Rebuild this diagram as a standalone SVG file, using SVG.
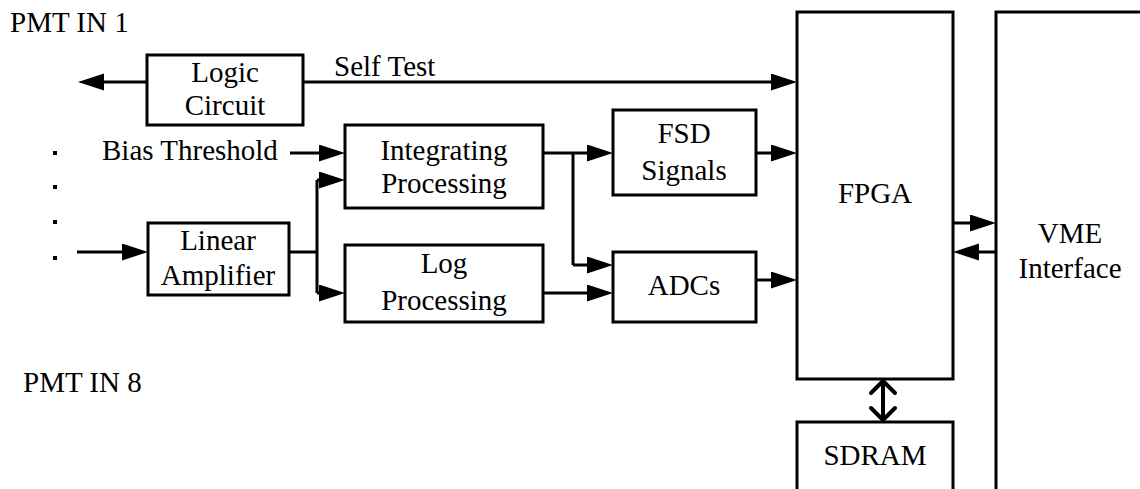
<svg xmlns="http://www.w3.org/2000/svg" width="1140" height="489" viewBox="0 0 1140 489" font-family="Liberation Serif, DejaVu Serif, serif" font-size="29">
<style>
.box{fill:#fff;stroke:#000;stroke-width:3}
.ln{fill:none;stroke:#000;stroke-width:3}
.ar{fill:none;stroke:#000;stroke-width:3;marker-end:url(#ah)}
.c{text-anchor:middle}
.dot{fill:#000}
</style>
<defs>
<marker id="ah" markerUnits="userSpaceOnUse" markerWidth="28" markerHeight="18" refX="16" refY="8.5" orient="auto">
<path d="M0,0 L26,8.5 L0,17 z" fill="#000"/>
</marker>
</defs>
<rect width="1140" height="489" fill="#fff"/>
<g id="labels">
<text x="10" y="32">PMT IN 1</text>
<text x="23" y="392">PMT IN 8</text>
<text x="102" y="160">Bias Threshold</text>
<text x="334" y="76">Self Test</text>
<rect class="dot" x="53" y="151" width="4" height="4"/>
<rect class="dot" x="53" y="185" width="4" height="4"/>
<rect class="dot" x="53" y="220" width="4" height="4"/>
<rect class="dot" x="53" y="256" width="4" height="4"/>
</g>
<g id="connectors">
<path class="ar" d="M147,82 H88"/>
<path class="ar" d="M303,82 H787"/>
<path class="ar" d="M290,153 H335"/>
<path class="ar" d="M77,252 H138"/>
<path class="ln" d="M289,252 H317 M317,180 V293"/>
<path class="ar" d="M317,180 H335"/>
<path class="ar" d="M317,293 H335"/>
<path class="ar" d="M543,153 H603"/>
<path class="ln" d="M573,153 V265"/>
<path class="ar" d="M573,265 H603"/>
<path class="ar" d="M543,293 H603"/>
<path class="ar" d="M756,153 H787"/>
<path class="ar" d="M756,280 H787"/>
<path class="ar" d="M953,223 H986"/>
<path class="ar" d="M996,252 H963"/>
<path fill="none" stroke="#000" stroke-width="4" stroke-linecap="round" stroke-linejoin="round" d="M883,381 V420 M871,393 L883,381 L895,393 M871,408 L883,420 L895,408"/>
</g>
<g id="logic">
<rect class="box" x="147" y="55" width="156" height="70"/>
<text class="c" x="225" y="82">Logic</text>
<text class="c" x="225" y="115">Circuit</text>
</g>
<g id="linear">
<rect class="box" x="148" y="223" width="141" height="72"/>
<text class="c" x="218" y="250">Linear</text>
<text class="c" x="218" y="285">Amplifier</text>
</g>
<g id="integrating">
<rect class="box" x="345" y="125" width="198" height="83"/>
<text class="c" x="444" y="160">Integrating</text>
<text class="c" x="444" y="193">Processing</text>
</g>
<g id="log">
<rect class="box" x="345" y="245" width="198" height="77"/>
<text class="c" x="444" y="273">Log</text>
<text class="c" x="444" y="310">Processing</text>
</g>
<g id="fsd">
<rect class="box" x="613" y="110" width="143" height="85"/>
<text class="c" x="684" y="143">FSD</text>
<text class="c" x="684" y="180">Signals</text>
</g>
<g id="adcs">
<rect class="box" x="613" y="252" width="143" height="70"/>
<text class="c" x="684" y="295">ADCs</text>
</g>
<g id="fpga">
<rect class="box" x="797" y="12" width="156" height="367"/>
<text class="c" x="875" y="203">FPGA</text>
</g>
<g id="sdram">
<rect class="box" x="797" y="422" width="156" height="80"/>
<text class="c" x="875" y="465">SDRAM</text>
</g>
<g id="vme">
<rect class="box" x="996" y="12" width="160" height="490"/>
<text class="c" x="1070" y="243">VME</text>
<text class="c" x="1070" y="278">Interface</text>
</g>
</svg>
